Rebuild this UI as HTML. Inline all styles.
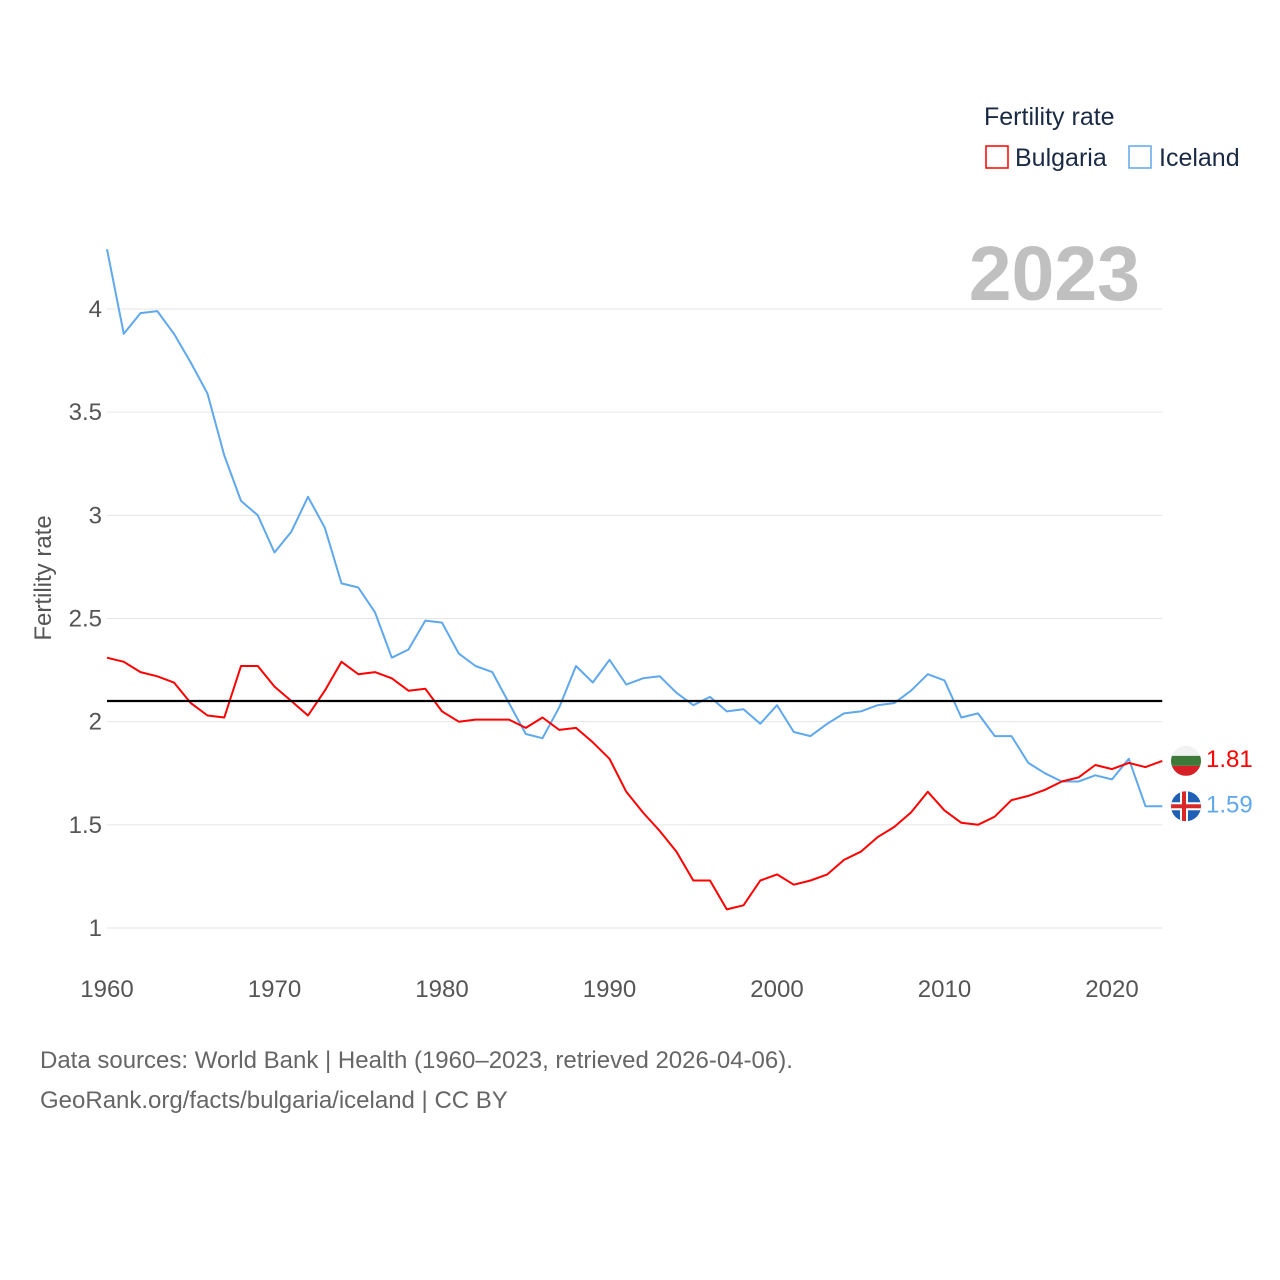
<!DOCTYPE html>
<html><head><meta charset="utf-8"><style>
html,body{margin:0;padding:0;background:#fff;}
svg{display:block;font-family:"Liberation Sans",sans-serif;}
</style></head><body>
<svg id="chart" width="1280" height="1280" viewBox="0 0 1280 1280">
<g id="grid"></g>
<g id="yticks"></g>
<g id="xticks"></g>
<text x="1140" y="300" text-anchor="end" font-size="77" font-weight="bold" fill="#c0c0c0">2023</text>
<text transform="translate(51,578) rotate(-90)" text-anchor="middle" font-size="24" fill="#555">Fertility rate</text>
<g id="series"></g>
<line id="refline" stroke="#000" stroke-width="2.2"></line>
<g>
<text x="984" y="125" font-size="25" fill="#1a2a44">Fertility rate</text>
<rect x="986" y="146" width="22" height="22" fill="none" stroke="#ff0000" stroke-width="1.5"/>
<text x="1015" y="166" font-size="25" fill="#1a2a44">Bulgaria</text>
<rect x="1129" y="146" width="22" height="22" fill="none" stroke="#5fa8ec" stroke-width="1.5"/>
<text x="1159" y="166" font-size="25" fill="#1a2a44">Iceland</text>
</g>
<g id="ends"></g>
<text x="40" y="1068" font-size="24" fill="#666">Data sources: World Bank | Health (1960–2023, retrieved 2026-04-06).</text>
<text x="40" y="1108" font-size="24" fill="#666">GeoRank.org/facts/bulgaria/iceland | CC BY</text>
</svg>
<script>
const years = [];
for (let y = 1960; y <= 2023; y++) years.push(y);
const bulgaria = [2.31,2.29,2.24,2.22,2.19,2.09,2.03,2.02,2.27,2.27,2.17,2.10,2.03,2.15,2.29,2.23,2.24,2.21,2.15,2.16,2.05,2.00,2.01,2.01,2.01,1.97,2.02,1.96,1.97,1.90,1.82,1.66,1.56,1.47,1.37,1.23,1.23,1.09,1.11,1.23,1.26,1.21,1.23,1.26,1.33,1.37,1.44,1.49,1.56,1.66,1.57,1.51,1.50,1.54,1.62,1.64,1.67,1.71,1.73,1.79,1.77,1.80,1.78,1.81];
const iceland = [4.29,3.88,3.98,3.99,3.88,3.74,3.59,3.29,3.07,3.00,2.82,2.92,3.09,2.94,2.67,2.65,2.53,2.31,2.35,2.49,2.48,2.33,2.27,2.24,2.09,1.94,1.92,2.07,2.27,2.19,2.30,2.18,2.21,2.22,2.14,2.08,2.12,2.05,2.06,1.99,2.08,1.95,1.93,1.99,2.04,2.05,2.08,2.09,2.15,2.23,2.20,2.02,2.04,1.93,1.93,1.80,1.75,1.71,1.71,1.74,1.72,1.82,1.59,1.59];
const yTicks = [1,1.5,2,2.5,3,3.5,4];
const xTicks = [1960,1970,1980,1990,2000,2010,2020];
const refValue = 2.1;

const NS = "http://www.w3.org/2000/svg";
const X = yr => 107 + (yr - 1960) * (1005 / 60);
const Y = v => 928 - (v - 1) * (619 / 3);
const x0 = 107, x1 = X(2023);
function mk(tag, attrs, parent){const e=document.createElementNS(NS,tag);for(const k in attrs)e.setAttribute(k,attrs[k]);parent.appendChild(e);return e;}
const grid=document.getElementById('grid'), yt=document.getElementById('yticks'), xt=document.getElementById('xticks');
yTicks.forEach(v=>{
  const l=mk('line',{x1:x0,x2:x1,y1:Y(v),y2:Y(v),stroke:'#e6e6e6','stroke-width':1},grid);
  
  
  const t=mk('text',{x:102,y:Y(v)+8,'text-anchor':'end','font-size':24,fill:'#555'},yt);
  t.textContent=String(v);
  
  
});
xTicks.forEach(v=>{
  const t=mk('text',{x:X(v),y:997,'text-anchor':'middle','font-size':24,fill:'#555'},xt);
  t.textContent=String(v);
  
  
});
const ser=document.getElementById('series');
function line(data,color,name){
  const p=mk('polyline',{points:data.map((v,i)=>X(years[i]).toFixed(1)+','+Y(v).toFixed(1)).join(' '),fill:'none',stroke:color,'stroke-width':2,'stroke-linejoin':'round'},ser);
  
  
}
line(iceland,'#5fa8ec','iceland-line');
line(bulgaria,'#ff0000','bulgaria-line');
const rl=document.getElementById('refline');
rl.setAttribute('x1',x0);rl.setAttribute('x2',x1);rl.setAttribute('y1',Y(refValue));rl.setAttribute('y2',Y(refValue));

const ends=document.getElementById('ends');
const bx=1186, by=Y(bulgaria[bulgaria.length-1]);
const bg=mk('g',{},ends);


const cpb=mk('clipPath',{id:'cb'},bg); mk('circle',{cx:bx,cy:by,r:15},cpb);
const bgi=mk('g',{'clip-path':'url(#cb)'},bg);
mk('rect',{x:bx-15,y:by-15,width:30,height:10,fill:'#f2f2f2'},bgi);
mk('rect',{x:bx-15,y:by-5,width:30,height:10,fill:'#3d7a3a'},bgi);
mk('rect',{x:bx-15,y:by+5,width:30,height:10,fill:'#d61f26'},bgi);
const bt=mk('text',{x:1206,y:by+6,'font-size':24,fill:'#ff0000'},ends);
bt.textContent=bulgaria[bulgaria.length-1].toFixed(2);



const ix=1186, iy=Y(iceland[iceland.length-1]);
const ig=mk('g',{},ends);


const cp=mk('clipPath',{id:'ci'},ig); mk('circle',{cx:ix,cy:iy,r:15},cp);
const igi=mk('g',{'clip-path':'url(#ci)'},ig);
mk('rect',{x:ix-15,y:iy-15,width:30,height:30,fill:'#1f5fb5'},igi);
mk('rect',{x:ix-15,y:iy-4,width:30,height:8,fill:'#fff'},igi);
mk('rect',{x:ix-6,y:iy-15,width:8,height:30,fill:'#fff'},igi);
mk('rect',{x:ix-15,y:iy-2,width:30,height:4,fill:'#d72828'},igi);
mk('rect',{x:ix-4,y:iy-15,width:4,height:30,fill:'#d72828'},igi);
const it=mk('text',{x:1206,y:iy+6,'font-size':24,fill:'#5fa8ec'},ends);
it.textContent=iceland[iceland.length-1].toFixed(2);


</script>
</body></html>
